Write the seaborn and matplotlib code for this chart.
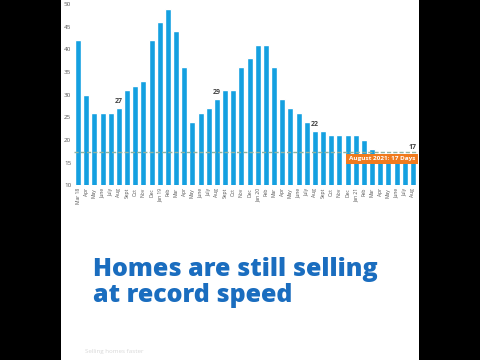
import matplotlib
matplotlib.use("Agg")
import matplotlib.pyplot as plt
import seaborn as sns
import pandas as pd
from matplotlib.patches import Rectangle

months = ["Mar 18", "Apr", "May", "June", "July", "Aug", "Sept", "Oct", "Nov", "Dec",
          "Jan 19", "Feb", "Mar", "Apr", "May", "June", "July", "Aug", "Sept", "Oct", "Nov", "Dec",
          "Jan 20", "Feb", "Mar", "Apr", "May", "June", "July", "Aug", "Sept", "Oct", "Nov", "Dec",
          "Jan 21", "Feb", "Mar", "Apr", "May", "June", "July", "Aug"]
days = [42, 30, 26, 26, 26, 27, 31, 32, 33, 42, 46, 49, 44, 36, 24, 26, 27, 29, 31, 31, 36, 38,
        41, 41, 36, 29, 27, 26, 24, 22, 22, 21, 21, 21, 21, 20, 18, 17, 17, 17, 17, 17]
labelled = {5: "27", 17: "29", 29: "22", 41: "17"}
yticks = [10, 15, 20, 25, 30, 35, 40, 45, 50]
ref_level = 17.4
callout = "August 2021: 17 Days"
title = "Homes are still selling\nat record speed"
footer = "Selling homes faster"

sns.set_style("white")
plt.rcParams['font.family'] = ['Open Sans', 'DejaVu Sans']

W, H = 480, 360
fig = plt.figure(figsize=(4.8, 3.6), dpi=100, facecolor="white")

# background layer: black pillar-box bars at the sides
bg = fig.add_axes([0, 0, 1, 1], zorder=-10)
bg.set_xlim(0, W)
bg.set_ylim(0, H)
bg.axis("off")
bg.add_patch(Rectangle((0, 0), 61, H, facecolor="black", edgecolor="none"))
bg.add_patch(Rectangle((419, 0), W - 419, H, facecolor="black", edgecolor="none"))

ax = fig.add_axes([74 / W, (360 - 185.2) / H, 343 / W, 181.2 / H])
ax.set_facecolor("none")
df = pd.DataFrame({"idx": [str(i) for i in range(len(days))], "days": days})
sns.barplot(data=df, x="idx", y="days", color="#14a0e0", saturation=1, width=0.74, ax=ax)

ax.set_ylim(10, 50)
ax.set_xlim(-0.5, len(days) - 0.5)
ax.set_yticks(yticks)
ax.set_yticklabels([str(v) for v in yticks], fontsize=4.5, color="#555555")
ax.set_xticks(range(len(months)))
ax.set_xticklabels(months, rotation=90, fontsize=3.6, color="#555555")
ax.tick_params(length=0, pad=2)
ax.set_xlabel("")
ax.set_ylabel("")
for s in ax.spines.values():
    s.set_visible(False)

ax.axhline(ref_level, color="#8fb3a2", lw=1.0, ls=(0, (3, 1.5)), zorder=3)

for i, t in labelled.items():
    ax.text(i, days[i] + 0.6, t, ha="center", va="bottom", fontsize=5, fontweight="bold",
            color="#444444")

ax.text(37.2, 15.8, callout, ha="center", va="center", fontsize=4.6, fontweight="bold",
        color="white", zorder=5,
        bbox=dict(boxstyle="square,pad=0.4", facecolor="#f07b1e", edgecolor="none"))

fig.text(93 / W, 1 - 257 / H, title, ha="left", va="top", fontsize=18, fontweight=800,
         color="#1a6dbf", linespacing=1.05)
fig.text(85 / W, 1 - 352 / H, footer, ha="left", va="center", fontsize=4.5, color="#d8d8d8")

fig.savefig("out.png", dpi=100, facecolor="white")
